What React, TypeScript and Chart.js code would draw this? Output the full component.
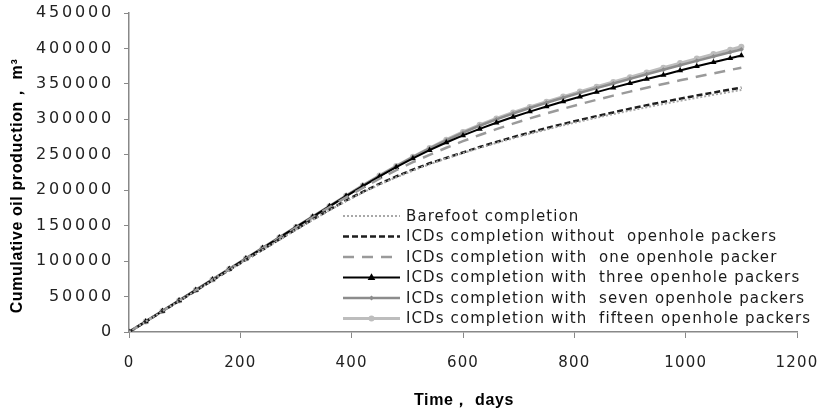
import React, { useEffect, useRef } from 'react';
import { Chart, registerables } from 'chart.js';

Chart.register(...registerables);

const days = [0, 30, 60, 90, 120, 150, 180, 210, 240, 270, 300, 330, 360, 390, 420, 450, 480, 510, 540, 570, 600, 630, 660, 690, 720, 750, 780, 810, 840, 870, 900, 930, 960, 990, 1020, 1050, 1080, 1100];

const barefoot = [0, 14600, 29200, 43800, 58300, 72800, 87300, 101600, 115900, 130100, 144200, 158100, 171700, 184600, 196700, 207900, 218200, 227700, 236600, 244800, 252400, 259700, 266600, 273200, 279600, 285700, 291500, 297000, 302300, 307300, 312300, 317100, 321700, 326100, 330400, 334600, 338700, 341400];
const noPackers = [0, 14600, 29200, 43800, 58400, 73000, 87500, 101900, 116300, 130600, 144800, 158800, 172500, 185500, 197700, 209000, 219400, 229000, 238000, 245500, 253300, 260900, 268100, 274900, 281400, 287600, 293500, 299100, 304500, 309700, 315000, 319900, 324600, 329100, 333500, 337800, 342000, 344800];
const onePacker = [0, 14800, 29600, 44400, 59200, 74000, 88800, 103500, 118200, 132800, 147300, 161800, 176000, 190000, 203400, 216200, 228300, 239500, 250000, 259900, 269200, 277900, 286100, 293900, 301300, 308300, 315000, 321400, 327500, 333400, 339100, 344600, 349900, 355000, 360000, 364900, 369700, 372800];
const threePackers = [0, 14800, 29600, 44400, 59200, 74000, 88800, 103600, 118400, 133200, 147900, 162600, 177300, 191800, 205900, 219500, 232500, 244900, 256500, 267300, 277300, 286500, 295100, 303200, 310900, 318200, 325200, 331900, 338400, 344700, 350800, 356800, 362600, 369000, 374800, 380500, 386200, 390000];
const sevenPackers = [0, 14800, 29600, 44400, 59200, 74000, 88800, 103600, 118400, 133200, 148000, 162700, 177400, 192100, 206500, 220400, 233800, 246700, 258900, 270400, 281100, 291000, 299900, 308200, 315900, 323300, 330400, 337300, 344000, 350600, 357100, 363600, 370000, 376300, 382500, 388600, 394600, 398600];
const fifteenPackers = [0, 14800, 29600, 44400, 59200, 74000, 88800, 103600, 118400, 133200, 148000, 162700, 177500, 192200, 206600, 220600, 234200, 247200, 259600, 271300, 282200, 292200, 301200, 309600, 317400, 324900, 332100, 339100, 345900, 352600, 359500, 366200, 372800, 379300, 385700, 392000, 398200, 402300];

const xTicks = [0, 200, 400, 600, 800, 1000, 1200];
const yTicks = [0, 50000, 100000, 150000, 200000, 250000, 300000, 350000, 400000, 450000];

const seriesNames = [
  'Barefoot completion',
  'ICDs completion without  openhole packers',
  'ICDs completion with  one openhole packer',
  'ICDs completion with  three openhole packers',
  'ICDs completion with  seven openhole packers',
  'ICDs completion with  fifteen openhole packers',
];

const xTitle = 'Time， days';
const yTitle = 'Cumulative oil production， m³';

const toPts = (vals: number[]) => vals.map((v, i) => ({ x: days[i], y: v }));

type Style = {
  color: string;
  width: number;
  dash: number[];
  point: string | false;
  radius: number;
};

const styles: Style[] = [
  { color: '#a8a8a8', width: 2, dash: [2, 2], point: false, radius: 0 },
  { color: '#1e1e1e', width: 2.5, dash: [6, 3], point: false, radius: 0 },
  { color: '#9a9a9a', width: 2.5, dash: [11, 8], point: false, radius: 0 },
  { color: '#000000', width: 2, dash: [], point: 'triangle', radius: 3.5 },
  { color: '#8c8c8c', width: 2.5, dash: [], point: 'rectRot', radius: 2.5 },
  { color: '#bdbdbd', width: 3, dash: [], point: 'circle', radius: 3 },
];

const drawMarker = (ctx: CanvasRenderingContext2D, kind: string, x: number, y: number, r: number, color: string) => {
  ctx.save();
  ctx.fillStyle = color;
  ctx.beginPath();
  if (kind === 'triangle') {
    ctx.moveTo(x, y - r * 1.2);
    ctx.lineTo(x + r * 1.1, y + r * 0.7);
    ctx.lineTo(x - r * 1.1, y + r * 0.7);
    ctx.closePath();
  } else if (kind === 'rectRot') {
    ctx.moveTo(x, y - r);
    ctx.lineTo(x + r, y);
    ctx.lineTo(x, y + r);
    ctx.lineTo(x - r, y);
    ctx.closePath();
  } else {
    ctx.arc(x, y, r, 0, Math.PI * 2);
  }
  ctx.fill();
  ctx.restore();
};

// give each axis its own letter spacing for tick labels
const withSpacing = (scale: any, spacing: string) => {
  if (scale.__spaced) return;
  scale.__spaced = true;
  const orig = scale.drawLabels.bind(scale);
  scale.drawLabels = (area: any) => {
    const ctx: any = scale.ctx;
    ctx.save();
    ctx.letterSpacing = spacing;
    orig(area);
    ctx.restore();
  };
};

const overlayPlugin = {
  id: 'overlayLegend',
  afterDraw(chart: any) {
    const ctx: CanvasRenderingContext2D = chart.ctx;
    ctx.save();
    // legend
    const x0 = 343;
    const x1 = 400;
    const tx = 406;
    const rowY = [216, 236.5, 257, 277.5, 298, 318.5];
    ctx.font = '15px "DejaVu Sans"';
    (ctx as any).letterSpacing = '1.1px';
    ctx.textBaseline = 'middle';
    ctx.textAlign = 'left';
    seriesNames.forEach((name, i) => {
      const s = styles[i];
      const y = rowY[i];
      ctx.save();
      ctx.strokeStyle = s.color;
      ctx.lineWidth = s.width;
      ctx.setLineDash(s.dash);
      ctx.beginPath();
      ctx.moveTo(x0, y);
      ctx.lineTo(x1, y);
      ctx.stroke();
      ctx.restore();
      if (s.point) drawMarker(ctx, s.point as string, (x0 + x1) / 2, y, s.radius, s.color);
      ctx.fillStyle = '#1a1a1a';
      ctx.fillText(name, tx, y + 1);
    });
    // axis titles
    ctx.fillStyle = '#000';
    ctx.font = 'bold 16px "Liberation Sans"';
    (ctx as any).letterSpacing = '0.6px';
    ctx.textAlign = 'center';
    ctx.fillText(xTitle, 464, 401);
    ctx.save();
    ctx.translate(18, 186);
    ctx.rotate(-Math.PI / 2);
    ctx.fillText(yTitle, 0, 0);
    ctx.restore();
    ctx.restore();
  },
};

export default function App() {
  const ref = useRef<HTMLCanvasElement | null>(null);
  useEffect(() => {
    if (!ref.current) return;
    const series = [barefoot, noPackers, onePacker, threePackers, sevenPackers, fifteenPackers];
    const chart = new Chart(ref.current, {
      type: 'line',
      data: {
        datasets: series.map((vals, i) => {
          const s = styles[i];
          return {
            label: seriesNames[i],
            data: toPts(vals),
            borderColor: s.color,
            backgroundColor: s.color,
            borderWidth: s.width,
            borderDash: s.dash,
            pointStyle: (s.point || 'circle') as any,
            pointRadius: s.radius,
            pointBorderWidth: 0,
            pointBackgroundColor: s.color,
            tension: 0,
            fill: false,
          };
        }),
      },
      options: {
        animation: false,
        responsive: false,
        maintainAspectRatio: false,
        events: [],
        layout: { padding: { left: 0, top: 13, right: 26, bottom: 0 } },
        plugins: {
          legend: { display: false },
          tooltip: { enabled: false },
          title: { display: false },
        },
        scales: {
          x: {
            type: 'linear',
            min: 0,
            max: 1200,
            afterBuildTicks: (scale: any) => {
              scale.ticks = xTicks.map((v) => ({ value: v }));
            },
            afterFit: (scale: any) => {
              scale.height = 78;
              scale.paddingLeft = 0;
              scale.paddingRight = 0;
              withSpacing(scale, '1.2px');
            },
            grid: { drawOnChartArea: false, drawTicks: true, tickLength: 6, color: '#888888', lineWidth: 1 },
            border: { color: '#888888', width: 1.5 },
            ticks: {
              color: '#222222',
              font: { family: '"DejaVu Sans"', size: 15 },
              padding: 16,
              maxRotation: 0,
              callback: (v: any) => String(v),
            },
          },
          y: {
            type: 'linear',
            min: 0,
            max: 450000,
            afterBuildTicks: (scale: any) => {
              scale.ticks = yTicks.map((v) => ({ value: v }));
            },
            afterFit: (scale: any) => {
              scale.width = 129;
              scale.paddingTop = 0;
              scale.paddingBottom = 0;
              withSpacing(scale, '2.8px');
            },
            grid: { drawOnChartArea: false, drawTicks: true, tickLength: 5, color: '#888888', lineWidth: 1 },
            border: { color: '#888888', width: 1.5 },
            ticks: {
              color: '#222222',
              font: { family: '"DejaVu Sans"', size: 16 },
              padding: 10,
              callback: (v: any) => String(v),
            },
          },
        },
      },
      plugins: [overlayPlugin],
    });
    return () => chart.destroy();
  }, []);
  return (
    <div style={{ position: 'fixed', left: 0, top: 0, width: 823, height: 410, background: '#fff' }}>
      <canvas ref={ref} width={823} height={410} style={{ width: 823, height: 410, display: 'block' }} />
    </div>
  );
}
